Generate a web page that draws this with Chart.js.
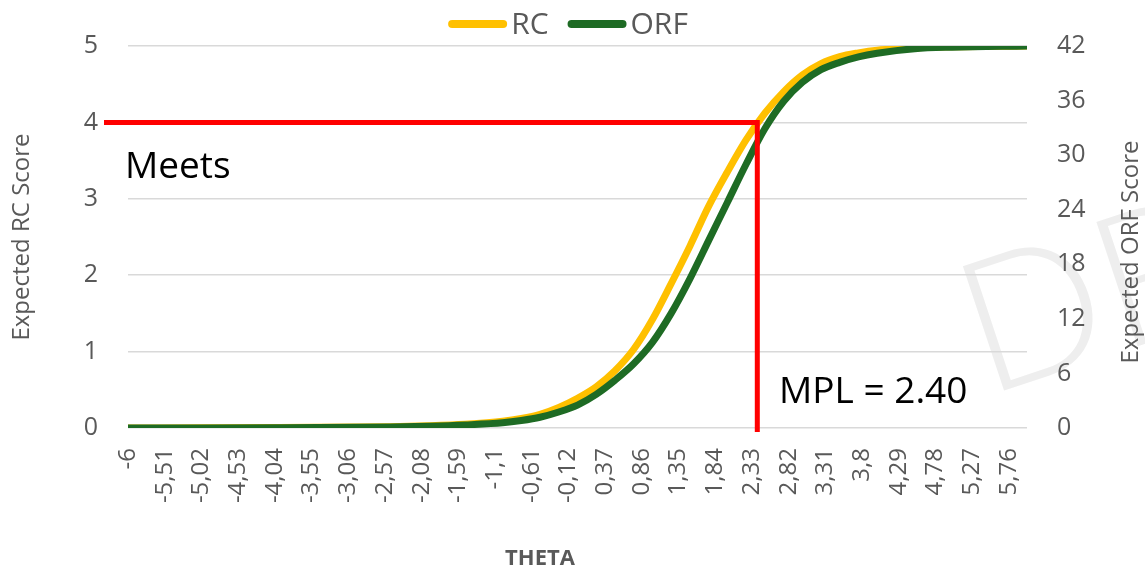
<!DOCTYPE html>
<html>
<head>
<meta charset="utf-8">
<script src="https://cdn.jsdelivr.net/npm/chart.js@4.4.1/dist/chart.umd.min.js"></script>
<style>
  html, body { margin: 0; padding: 0; background: #ffffff; }
  #wrap { width: 1145px; height: 570px; }
</style>
</head>
<body>
<div id="wrap"><canvas id="tcc" width="1145" height="570"></canvas></div>
<script>
// Ability values (theta) at which the expected scores are given
const theta = [-6, -5, -4, -3, -2.5, -2, -1.5, -1, -0.75, -0.5, -0.25, 0, 0.25, 0.5, 0.75, 1,
  1.25, 1.5, 1.75, 2, 2.25, 2.5, 2.75, 3, 3.25, 3.5, 3.75, 4, 4.5, 5, 6];

// Expected reading-comprehension score (0–5)
const rcScore = [0, 0.002, 0.005, 0.012, 0.018, 0.03, 0.05, 0.088, 0.125, 0.18, 0.27, 0.39, 0.54, 0.75, 1.03, 1.42,
  1.89, 2.38, 2.9, 3.35, 3.77, 4.12, 4.4, 4.62, 4.77, 4.86, 4.91, 4.945, 4.975, 4.99, 5.0];

// Expected oral-reading-fluency score (0–42)
const orfScore = [0, 0.008, 0.034, 0.076, 0.118, 0.2, 0.34, 0.57, 0.82, 1.18, 1.76, 2.52, 3.7, 5.25, 7.06, 9.41,
  12.6, 16.4, 20.6, 24.8, 29.0, 32.9, 35.9, 38.0, 39.4, 40.2, 40.8, 41.2, 41.7, 41.87, 42.0];

// Category-style tick positions and their printed labels
const thetaTicks = [-6, -5.51, -5.02, -4.53, -4.04, -3.55, -3.06, -2.57, -2.08, -1.59, -1.1, -0.61, -0.12,
  0.37, 0.86, 1.35, 1.84, 2.33, 2.82, 3.31, 3.8, 4.29, 4.78, 5.27, 5.76];
const thetaTickLabels = ['-6', '-5,51', '-5,02', '-4,53', '-4,04', '-3,55', '-3,06', '-2,57', '-2,08', '-1,59',
  '-1,1', '-0,61', '-0,12', '0,37', '0,86', '1,35', '1,84', '2,33', '2,82', '3,31', '3,8', '4,29', '4,78', '5,27', '5,76'];

const rcTicks = [0, 1, 2, 3, 4, 5];
const orfTicks = [0, 6, 12, 18, 24, 30, 36, 42];

// Cut score: minimum proficiency level on theta and the RC score it corresponds to
const mplTheta = 2.40;
const meetsRC = 4;

const seriesNames = ['RC', 'ORF'];
const seriesColors = ['#FFC000', '#1E6B24'];

const FONT = "'Open Sans', 'DejaVu Sans', sans-serif";
const GREY = '#595959';

// Watermark, cut lines, annotations, legend and the extra axis titles
const overlay = {
  id: 'overlay',
  beforeDraw(chart) {
    const ctx = chart.ctx;
    ctx.save();
    ctx.translate(999, 392);
    ctx.rotate(-0.32);
    ctx.font = "300 185px Lato, " + FONT;
    ctx.fillStyle = '#eeeeee';
    ctx.textBaseline = 'alphabetic';
    ctx.textAlign = 'left';
    ctx.fillText('DRAFT', -14, 0);
    ctx.restore();
  },
  afterDatasetsDraw(chart) {
    const ctx = chart.ctx;
    const x = chart.scales.x, y = chart.scales.yRC;
    const px = x.getPixelForValue(mplTheta);
    const py = y.getPixelForValue(meetsRC);
    ctx.save();
    ctx.strokeStyle = '#FF0000';
    ctx.lineWidth = 5;
    ctx.lineCap = 'butt';
    ctx.beginPath();
    ctx.moveTo(chart.chartArea.left - 24, py);
    ctx.lineTo(px + 2.5, py);
    ctx.moveTo(px, py - 2.5);
    ctx.lineTo(px, chart.chartArea.bottom + 4);
    ctx.stroke();

    ctx.fillStyle = '#000000';
    ctx.font = "37px " + FONT;
    ctx.textAlign = 'left';
    ctx.textBaseline = 'alphabetic';
    ctx.fillText('Meets', 125, 178);
    ctx.fillText('MPL = ' + mplTheta.toFixed(2), 779, 403);
    ctx.restore();
  },
  afterDraw(chart) {
    const ctx = chart.ctx;
    ctx.save();
    // legend
    ctx.font = "30px " + FONT;
    const lineLen = 59, gap = 4, spacing = 19;
    const widths = seriesNames.map(n => ctx.measureText(n).width);
    let total = 0;
    widths.forEach((w, i) => { total += lineLen + gap + w + (i ? spacing : 0); });
    let lx = 568 - total / 2;
    const ly = 24;
    seriesNames.forEach((name, i) => {
      ctx.strokeStyle = seriesColors[i];
      ctx.lineWidth = 8;
      ctx.lineCap = 'round';
      ctx.beginPath();
      ctx.moveTo(lx + 4, ly);
      ctx.lineTo(lx + lineLen - 4, ly);
      ctx.stroke();
      ctx.fillStyle = GREY;
      ctx.textAlign = 'left';
      ctx.textBaseline = 'middle';
      ctx.fillText(name, lx + lineLen + gap, ly + 1);
      lx += lineLen + gap + widths[i] + spacing;
    });

    // right axis title (reads bottom to top)
    ctx.save();
    ctx.translate(1131, 252);
    ctx.rotate(-Math.PI / 2);
    ctx.font = "24px " + FONT;
    ctx.fillStyle = GREY;
    ctx.textAlign = 'center';
    ctx.textBaseline = 'middle';
    ctx.fillText('Expected ORF Score', 0, 0);
    ctx.restore();

    // x axis title
    ctx.font = "bold 22px " + FONT;
    ctx.fillStyle = GREY;
    ctx.textAlign = 'center';
    ctx.textBaseline = 'middle';
    ctx.fillText('THETA', 540, 559);
    ctx.restore();
  }
};

const ctx = document.getElementById('tcc').getContext('2d');
new Chart(ctx, {
  type: 'line',
  data: {
    datasets: [
      {
        label: seriesNames[0],
        data: theta.map((t, i) => ({ x: t, y: rcScore[i] })),
        yAxisID: 'yRC',
        borderColor: seriesColors[0],
        backgroundColor: seriesColors[0],
        borderWidth: 7,
        pointRadius: 0,
        cubicInterpolationMode: 'monotone',
        borderCapStyle: 'round',
        borderJoinStyle: 'round',
        order: 1
      },
      {
        label: seriesNames[1],
        data: theta.map((t, i) => ({ x: t, y: orfScore[i] })),
        yAxisID: 'yORF',
        borderColor: seriesColors[1],
        backgroundColor: seriesColors[1],
        borderWidth: 7,
        pointRadius: 0,
        cubicInterpolationMode: 'monotone',
        borderCapStyle: 'round',
        borderJoinStyle: 'round',
        order: 0
      }
    ]
  },
  options: {
    responsive: false,
    animation: false,
    devicePixelRatio: 1,
    layout: { padding: { top: 46, left: 0, right: 0, bottom: 0 } },
    plugins: { legend: { display: false }, tooltip: { enabled: false } },
    scales: {
      x: {
        type: 'linear',
        min: -6,
        max: 6,
        afterBuildTicks: s => { s.ticks = thetaTicks.map(v => ({ value: v })); },
        afterFit: s => { s.height = 142; },
        ticks: {
          autoSkip: false,
          minRotation: 90,
          maxRotation: 90,
          padding: 20,
          color: GREY,
          font: { family: FONT, size: 24 },
          callback: (v, i) => thetaTickLabels[i]
        },
        grid: { display: false, drawTicks: false },
        border: { display: false }
      },
      yRC: {
        type: 'linear',
        position: 'left',
        min: 0,
        max: 5,
        afterBuildTicks: s => { s.ticks = rcTicks.map(v => ({ value: v })); },
        afterFit: s => { s.width = 128; },
        ticks: { padding: 30, color: GREY, font: { family: FONT, size: 25 } },
        grid: { color: '#d9d9d9', lineWidth: 1.5, drawTicks: false },
        border: { display: false },
        title: {
          display: true,
          text: 'Expected RC Score',
          color: GREY,
          font: { family: FONT, size: 24 },
          padding: { top: 8, bottom: 0 }
        }
      },
      yORF: {
        type: 'linear',
        position: 'right',
        min: 0,
        max: 42,
        afterBuildTicks: s => { s.ticks = orfTicks.map(v => ({ value: v })); },
        afterFit: s => { s.width = 118; },
        ticks: { padding: 30, color: GREY, font: { family: FONT, size: 25 } },
        grid: { display: false, drawTicks: false },
        border: { display: false }
      }
    }
  },
  plugins: [overlay]
});
</script>
</body>
</html>
